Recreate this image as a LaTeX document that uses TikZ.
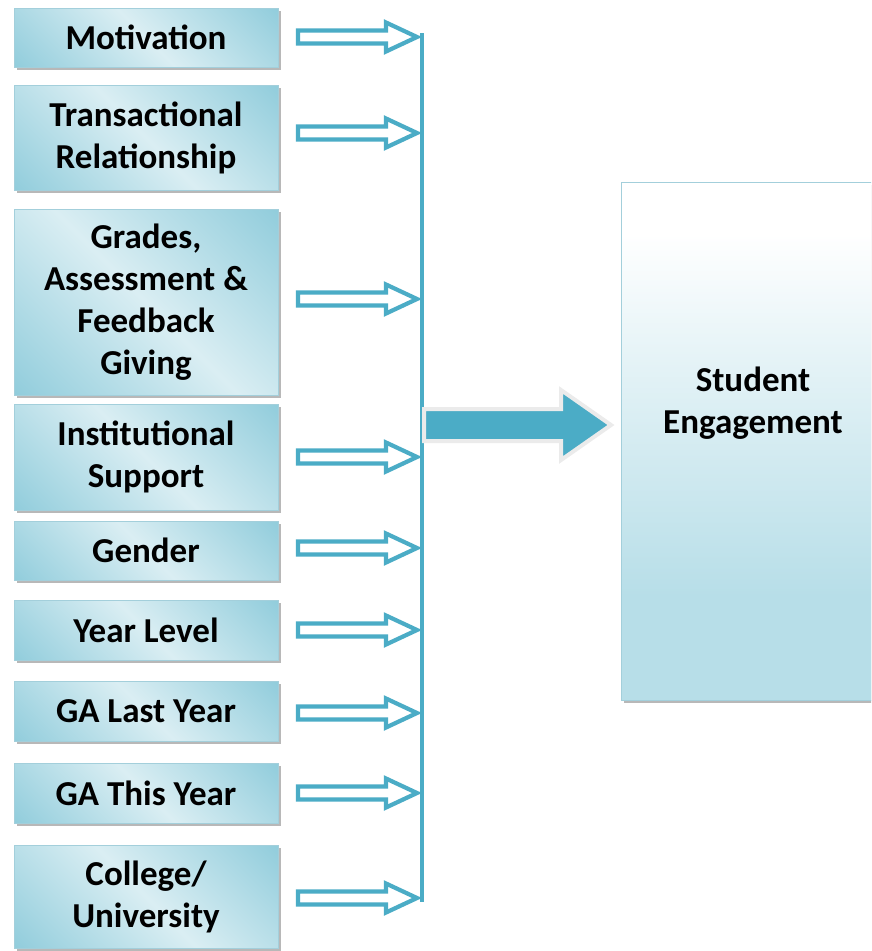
\documentclass[tikz,border=0pt]{standalone}
\usepackage{fontspec}
\setmainfont{Carlito}
\usetikzlibrary{shadows}
\definecolor{aqua}{HTML}{4BACC6}
\definecolor{aquadark}{HTML}{92CDDC}
\definecolor{aqualight}{HTML}{DAEEF3}
\definecolor{aquamid}{HTML}{B7DEE8}
\definecolor{boxline}{HTML}{A3CFDB}
\definecolor{arrowrim}{HTML}{EBEBEB}
\definecolor{shadowgray}{HTML}{9A9A9A}

% diagonal band: darker corners, pale stripe through the middle
\pgfdeclarehorizontalshading{factorshade}{100bp}{color(0bp)=(aquadark); color(15bp)=(aquadark); color(50bp)=(aqualight); color(85bp)=(aquadark); color(100bp)=(aquadark)}
% outcome box: white top fading into pale aqua lower down
\pgfdeclareverticalshading{outcomeshade}{100bp}{color(0bp)=(aquamid); color(35bp)=(aquamid); color(58bp)=(aqualight!70!white); color(70bp)=(white); color(100bp)=(white)}

\tikzset{
  factor/.style={draw=boxline, line width=0.8pt, shading=factorshade, shading angle=45,
    minimum width=264pt, inner sep=0pt, align=center, text=black,
    font=\bfseries\fontsize{35}{42}\selectfont,
    drop shadow={shadow xshift=2.5pt, shadow yshift=-2.5pt, fill=shadowgray, opacity=0.7}},
  outcome/.style={draw=boxline, line width=0.8pt, shading=outcomeshade,
    minimum width=264pt, minimum height=518pt, inner sep=0pt,
    drop shadow={shadow xshift=2.5pt, shadow yshift=-2.5pt, fill=shadowgray, opacity=0.7}},
  outcometext/.style={align=center, text=black, font=\bfseries\fontsize{35}{42}\selectfont},
  hollow/.style={draw=aqua, fill=white, line width=4.2pt, line join=miter},
  bus/.style={draw=aqua, line width=3.4pt},
  bigarrow/.style={fill=aqua, draw=arrowrim, line width=4pt, line join=miter},
  bigshadow/.style={fill=shadowgray, opacity=0.45},
}

% block arrow outline ending in the given tip point
\newcommand\hollowarrow[1]{%
  \draw[hollow] (#1) -- ++(-31,-14.5) -- ++(0,8) -- ++(-88,0) -- ++(0,13)
    -- ++(88,0) -- ++(0,8) -- cycle;}

\begin{document}
\begin{tikzpicture}[x=1pt, y=-1pt]
  \useasboundingbox (0,0) rectangle (871,951);
  \clip (0,0) rectangle (871,951);

  % factor boxes
  \node[factor, minimum height=59pt]  (motiv)  at (146,37.5)  {Motivation};
  \node[factor, minimum height=105pt] (trans)  at (146,137.5) {Transactional\\Relationship};
  \node[factor, minimum height=186pt] (grades) at (146,302)   {Grades,\\Assessment \&\\Feedback\\Giving};
  \node[factor, minimum height=106pt] (inst)   at (146,457)   {Institutional\\Support};
  \node[factor, minimum height=59pt]  (gender) at (146,550.5) {Gender};
  \node[factor, minimum height=60pt]  (year)   at (146,630)   {Year Level};
  \node[factor, minimum height=60pt]  (galast) at (146,711.5) {GA Last Year};
  \node[factor, minimum height=60pt]  (gathis) at (146,793)   {GA This Year};
  \node[factor, minimum height=103pt] (coll)   at (146,896.5) {College/\\University};

  % collecting bus
  \coordinate (bustop) at (422,33);
  \coordinate (busbot) at (422,902);
  \draw[bus] (bustop) -- (busbot);

  % arrow tips on the bus
  \coordinate (t1) at (417,37);
  \coordinate (t2) at (417,133);
  \coordinate (t3) at (417,299);
  \coordinate (t4) at (417,457);
  \coordinate (t5) at (417,548);
  \coordinate (t6) at (417,630);
  \coordinate (t7) at (417,713);
  \coordinate (t8) at (417,793);
  \coordinate (t9) at (417,898);
  \foreach \t in {t1,t2,t3,t4,t5,t6,t7,t8,t9} {\hollowarrow{\t}}

  % outcome box
  \node[outcome] (engage) at (753,441) {};
  \node[outcometext] (engagetext) at (753,403) {Student\\Engagement};

  % main arrow from the bus into the outcome box
  \coordinate (bigtail) at (424,425);
  \coordinate (bigtip) at (611,425);
  \begin{scope}[shift={(3,3)}]
    \fill[bigshadow] (bigtail) ++(0,-16) -- ++(137,0) -- ++(0,-19) -- (bigtip)
      -- ++(-50,35) -- ++(0,-19) -- ++(-137,0) -- cycle;
  \end{scope}
  \draw[bigarrow] (bigtail) ++(0,-16) -- ++(137,0) -- ++(0,-19) -- (bigtip)
    -- ++(-50,35) -- ++(0,-19) -- ++(-137,0) -- cycle;
\end{tikzpicture}
\end{document}
